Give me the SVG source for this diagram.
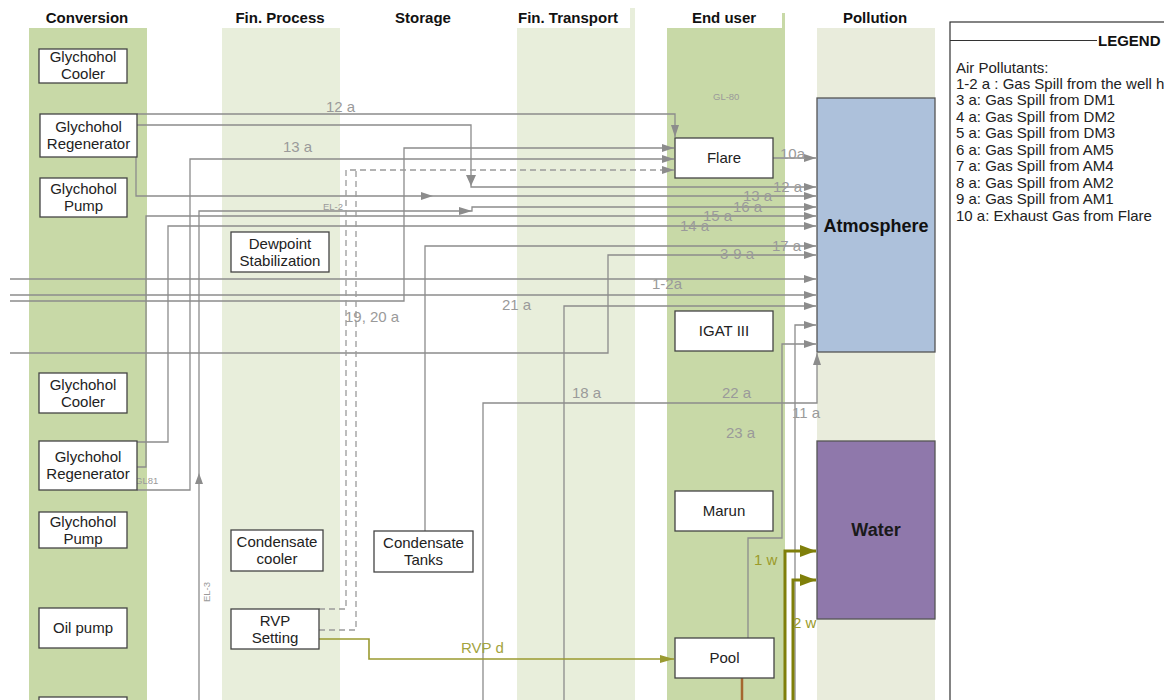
<svg xmlns="http://www.w3.org/2000/svg" width="1164" height="700" viewBox="0 0 1164 700">
<defs>
<style>
text{font-family:"Liberation Sans",Arial,sans-serif}
.hdr{font-size:15px;font-weight:bold;fill:#111;text-anchor:middle}
.node rect{fill:#fff;stroke:#444;stroke-width:1.3}
.node text{font-size:15px;fill:#222;text-anchor:middle}
.c{fill:none;stroke:#8c8c8c;stroke-width:1.3}
.d{fill:none;stroke:#9a9a9a;stroke-width:1.3;stroke-dasharray:6,4}
.lbl{font-size:15px;fill:#9a9a9a}
.sm{font-size:9.5px;fill:#9a9a9a}
.olive{fill:none;stroke:#7f7f0a;stroke-width:3}
.leg{font-size:15px;fill:#222}
</style>
<marker id="ah" markerUnits="userSpaceOnUse" markerWidth="12" markerHeight="8" refX="12" refY="4" orient="auto">
<path d="M0,0 L12,4 L0,8 z" fill="#8c8c8c"/>
</marker>
<marker id="ao" markerUnits="userSpaceOnUse" markerWidth="16" markerHeight="12" refX="16" refY="6" orient="auto">
<path d="M0,0 L16,6 L0,12 z" fill="#7f7f0a"/>
</marker>
<marker id="ay" markerUnits="userSpaceOnUse" markerWidth="14" markerHeight="8" refX="14" refY="4" orient="auto">
<path d="M0,0 L14,4 L0,8 z" fill="#9a9a30"/>
</marker>
</defs>
<rect width="1164" height="700" fill="#fff"/>
<g id="bands">
<rect x="29" y="28" width="118" height="672" fill="#c8d9a7"/>
<rect x="222" y="28" width="118" height="672" fill="#e8eedb"/>
<rect x="517" y="8" width="118" height="692" fill="#e8eedb"/>
<rect x="517" y="8" width="113" height="20" fill="#fff"/>
<rect x="667" y="13" width="118" height="687" fill="#c8d9a7"/>
<rect x="667" y="13" width="115" height="15" fill="#fff"/>
<rect x="817" y="28" width="118" height="672" fill="#e9ecdc"/>
</g>
<g id="headers">
<text class="hdr" x="87" y="23">Conversion</text>
<text class="hdr" x="280" y="23">Fin. Process</text>
<text class="hdr" x="423" y="23">Storage</text>
<text class="hdr" x="568" y="23">Fin. Transport</text>
<text class="hdr" x="724" y="23">End user</text>
<text class="hdr" x="875" y="23">Pollution</text>
</g>
<g id="connectors">
<path class="c" d="M137,114 H675 V137" marker-end="url(#ah)"/>
<path class="c" d="M137,125 H471 V187 H816" marker-end="url(#ah)"/>
<path d="M466,175 L471,186 L476,175 z" fill="#8c8c8c"/>
<path class="c" d="M136,157 V196 H816" marker-end="url(#ah)"/>
<path d="M421,192 L433,196 L421,200 z" fill="#8c8c8c"/>
<path class="c" d="M137,490 H190 V159 H674" marker-end="url(#ah)"/>
<path class="c" d="M199,700 V211 H472 V207 H816" marker-end="url(#ah)"/>
<path d="M195,484 L199,473 L203,484 z" fill="#8c8c8c"/>
<path d="M459,207 L472,211 L459,215 z" fill="#8c8c8c"/>
<path class="c" d="M137,467 H146 V216 H816" marker-end="url(#ah)"/>
<path class="c" d="M137,442 H168 V226 H816" marker-end="url(#ah)"/>
<path class="c" d="M425,531 V246 H816" marker-end="url(#ah)"/>
<path class="c" d="M10,353 H608 V255 H816" marker-end="url(#ah)"/>
<path class="c" d="M10,279 H816" marker-end="url(#ah)"/>
<path class="c" d="M10,295 H816" marker-end="url(#ah)"/>
<path class="c" d="M10,301 H404 V148 H674" marker-end="url(#ah)" stroke-width="1.8"/>
<path class="c" d="M564,700 V306 H816" marker-end="url(#ah)"/>
<path class="c" d="M795,700 V325 H816" marker-end="url(#ah)" stroke="#7a7a7a"/>
<path class="c" d="M748,638 V538 H782 V344 H816" marker-end="url(#ah)"/>
<path class="c" d="M483,700 V403 H817 V353" marker-end="url(#ah)"/>
<path class="c" d="M773,158 H816" marker-end="url(#ah)"/>
<path class="d" d="M319,609 H346 V170 H674" marker-end="url(#ah)"/>
<path class="d" d="M319,630 H356 V170"/>
<path fill="none" stroke="#9a9a30" stroke-width="1.6" d="M319,639 H369 V659 H674" marker-end="url(#ay)"/>
<path class="olive" d="M785,700 V551 H816" marker-end="url(#ao)"/>
<path class="olive" d="M793,700 V580 H816" marker-end="url(#ao)"/>
<path fill="none" stroke="#a5672f" stroke-width="2.5" d="M742,678 V700"/>
<text class="lbl" x="326" y="112">12 a</text>
<text class="lbl" x="283" y="152">13 a</text>
<text class="lbl" x="780" y="159">10a</text>
<text class="lbl" x="773" y="192">12 a</text>
<text class="lbl" x="743" y="201">13 a</text>
<text class="lbl" x="733" y="212">16 a</text>
<text class="lbl" x="703" y="221">15 a</text>
<text class="lbl" x="680" y="231">14 a</text>
<text class="lbl" x="772" y="251">17 a</text>
<text class="lbl" x="720" y="259">3-9 a</text>
<text class="lbl" x="652" y="289">1-2a</text>
<text class="lbl" x="502" y="310">21 a</text>
<text class="lbl" x="345" y="322">19, 20 a</text>
<text class="lbl" x="572" y="398">18 a</text>
<text class="lbl" x="722" y="398">22 a</text>
<text class="lbl" x="792" y="418">11 a</text>
<text class="lbl" x="726" y="438">23 a</text>
<text class="lbl" x="754" y="565" style="fill:#9b9b2a">1 w</text>
<text class="lbl" x="793" y="628" style="fill:#9b9b2a">2 w</text>
<text class="lbl" x="461" y="653" style="fill:#a3a340">RVP d</text>
<text class="sm" x="713" y="100">GL-80</text>
<text class="sm" x="323" y="210">EL-2</text>
<text class="sm" x="135" y="484">GL81</text>
<text class="sm" transform="translate(210,602) rotate(-90)">EL-3</text>
</g>
<g id="n-cooler1" class="node"><rect x="39" y="49" width="88" height="34"/><text x="83" y="62">Glychohol</text><text x="83" y="79">Cooler</text></g>
<g id="n-regen1" class="node"><rect x="40" y="114" width="97" height="43"/><text x="88.5" y="132">Glychohol</text><text x="88.5" y="149">Regenerator</text></g>
<g id="n-pump1" class="node"><rect x="40" y="178" width="87" height="39"/><text x="83.5" y="194">Glychohol</text><text x="83.5" y="211">Pump</text></g>
<g id="n-dewpoint" class="node"><rect x="231" y="232" width="98" height="40"/><text x="280" y="248.5">Dewpoint</text><text x="280" y="265.5">Stabilization</text></g>
<g id="n-cooler2" class="node"><rect x="39" y="373" width="88" height="40"/><text x="83" y="389.5">Glychohol</text><text x="83" y="406.5">Cooler</text></g>
<g id="n-regen2" class="node"><rect x="39" y="441" width="98" height="49"/><text x="88" y="462">Glychohol</text><text x="88" y="479">Regenerator</text></g>
<g id="n-pump2" class="node"><rect x="39" y="512" width="88" height="36"/><text x="83" y="526.5">Glychohol</text><text x="83" y="543.5">Pump</text></g>
<g id="n-oilpump" class="node"><rect x="39" y="608" width="88" height="40"/><text x="83" y="633">Oil pump</text></g>
<g id="n-bottom" class="node"><rect x="39" y="697" width="88" height="20"/></g>
<g id="n-condcooler" class="node"><rect x="231" y="530" width="92" height="41"/><text x="277" y="547">Condensate</text><text x="277" y="564">cooler</text></g>
<g id="n-rvp" class="node"><rect x="231" y="609" width="88" height="40"/><text x="275" y="625.5">RVP</text><text x="275" y="642.5">Setting</text></g>
<g id="n-condtanks" class="node"><rect x="374" y="531" width="99" height="41"/><text x="423.5" y="548">Condensate</text><text x="423.5" y="565">Tanks</text></g>
<g id="n-flare" class="node"><rect x="675" y="138" width="98" height="40"/><text x="724" y="163">Flare</text></g>
<g id="n-igat" class="node"><rect x="675" y="311" width="98" height="40"/><text x="724" y="336">IGAT III</text></g>
<g id="n-marun" class="node"><rect x="675" y="491" width="98" height="40"/><text x="724" y="516">Marun</text></g>
<g id="n-pool" class="node"><rect x="675" y="638" width="99" height="40"/><text x="724.5" y="663">Pool</text></g>
<g id="n-atmosphere"><rect x="817" y="98" width="118" height="254" fill="#adc1db" stroke="#555" stroke-width="1.3"/><text x="876" y="232" font-size="18" font-weight="bold" text-anchor="middle" fill="#111">Atmosphere</text></g>
<g id="n-water"><rect x="817" y="441" width="118" height="178" fill="#8f78ab" stroke="#555" stroke-width="1.3"/><text x="876" y="536" font-size="18" font-weight="bold" text-anchor="middle" fill="#1a1a1a">Water</text></g>
<g id="legend">
<rect x="950" y="22" width="230" height="700" fill="#fff" stroke="#333" stroke-width="1.2"/>
<line x1="950" y1="40.5" x2="1097" y2="40.5" stroke="#333" stroke-width="1.2"/>
<text x="1098" y="46" font-size="15" font-weight="bold" fill="#111">LEGEND</text>
<text class="leg" x="956" y="73">Air Pollutants:</text>
<text class="leg" x="956" y="88.5">1-2 a : Gas Spill from the well h</text>
<text class="leg" x="956" y="105">3 a: Gas Spill from DM1</text>
<text class="leg" x="956" y="121.5">4 a: Gas Spill from DM2</text>
<text class="leg" x="956" y="138">5 a: Gas Spill from DM3</text>
<text class="leg" x="956" y="154.5">6 a: Gas Spill from AM5</text>
<text class="leg" x="956" y="171">7 a: Gas Spill from AM4</text>
<text class="leg" x="956" y="187.5">8 a: Gas Spill from AM2</text>
<text class="leg" x="956" y="204">9 a: Gas Spill from AM1</text>
<text class="leg" x="956" y="220.5">10 a: Exhaust Gas from Flare</text>
</g>
</svg>
